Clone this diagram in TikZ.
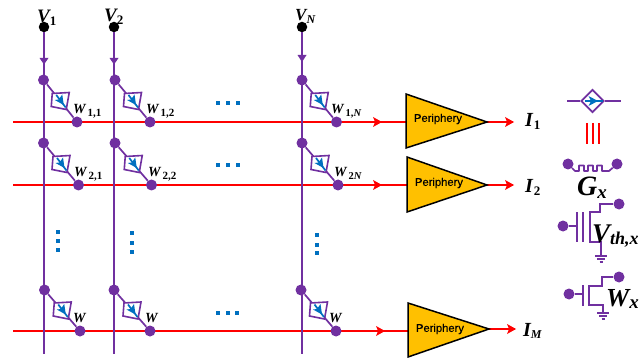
\documentclass[tikz,border=0pt]{standalone}
\usepackage{fontspec}
\setmainfont{Liberation Serif}
\newfontfamily\perfont[FakeBold=0.35]{Liberation Sans}
\usetikzlibrary{shapes.geometric,calc}
\definecolor{pur}{HTML}{7030A0}
\definecolor{blu}{HTML}{0070C0}
\definecolor{gold}{HTML}{FFC000}
\definecolor{redw}{HTML}{FF0000}
\newcommand\lab[5]{{\bfseries\itshape\fontsize{#1}{#1}\selectfont #2\hspace{#5pt}\raisebox{-2.5pt}{\fontsize{#3}{#3}\selectfont #4}}}
\newcommand\wlab[1]{\lab{14}{W}{11}{\upshape #1}{2}}
\tikzset{
  wire/.style={draw=pur,line width=1.7pt},
  wthin/.style={draw=pur,line width=1.5pt},
  rwire/.style={draw=redw,line width=2pt},
  pdot/.style={circle,fill=pur,inner sep=0pt,minimum size=11pt},
  kdot/.style={circle,fill=black,inner sep=0pt,minimum size=10.5pt},
  sdot/.style={circle,fill=pur,inner sep=0pt,minimum size=11pt},
  amp/.style={draw=black,line width=1.5pt,fill=gold,line join=miter},
  plab/.style={font=\perfont\fontsize{11.2}{11.2}\selectfont,text=black,inner sep=0pt},
  tlab/.style={anchor=base west,inner sep=0pt},
  bsq/.style={fill=blu,inner sep=0pt,minimum size=4.4pt},
}
% name, top x, top y, bottom x, bottom y
\newcommand\cellrr[5]{%
  \node[pdot] (#1t) at (#2,#3) {};
  \node[pdot] (#1b) at (#4,#5) {};
  \draw[wire] (#1t) -- (#1b);
  \coordinate (#1c) at ($(#1t)!0.5!(#1b)$);
  \begin{scope}[shift={(#1c)}]
    \filldraw[draw=pur,fill=white,line width=1.6pt,line join=miter] (-8,-7.5) -- (9,-8.5) -- (6,8.5) -- (-9,5.5) -- cycle;
    \draw[blu,line width=1.7pt] (-4,-6) -- (5.5,6.5);
    \fill[blu] (3.5,4) -- (-5.5,-1) -- (-1.5,-1.5) -- (2,-6.5) -- cycle;
  \end{scope}
}
\begin{document}
\begin{tikzpicture}[x=1pt,y=-1pt]
\useasboundingbox (0,0) rectangle (642,358);

% coordinates for the rows and amplifiers
\coordinate (r1s) at (13,122); \coordinate (a1i) at (406,122); \coordinate (a1o) at (487,122); \coordinate (o1) at (513,122);
\coordinate (r2s) at (13,185); \coordinate (a2i) at (407,185); \coordinate (a2o) at (487,185); \coordinate (o2) at (513,185);
\coordinate (r3s) at (13,331); \coordinate (a3i) at (408,331); \coordinate (a3o) at (489,329); \coordinate (o3) at (515,329);

% red word lines
\draw[rwire] (r1s) -- (a1i);
\draw[rwire] (r2s) -- (a2i);
\draw[rwire] (r3s) -- (a3i);
\draw[rwire] (a1o) -- (o1);
\draw[rwire] (a2o) -- (o2);
\draw[rwire] (a3o) -- (o3);
\fill[redw] (382,122) -- (373,117) -- (375,122) -- (373,127) -- cycle;
\fill[redw] (382,185) -- (373,180) -- (375,185) -- (373,190) -- cycle;
\fill[redw] (385,331) -- (376,326) -- (378,331) -- (376,336) -- cycle;
\fill[redw] (o1) ++(1,0) -- ++(-9,-5) -- ++(2,5) -- ++(-2,5) -- cycle;
\fill[redw] (o2) ++(1,0) -- ++(-9,-5) -- ++(2,5) -- ++(-2,5) -- cycle;
\fill[redw] (o3) ++(1,0) -- ++(-9,-5) -- ++(2,5) -- ++(-2,5) -- cycle;

% purple bit lines
\node[kdot] (v1) at (44,27) {};
\node[kdot] (v2) at (114,27) {};
\node[kdot] (vn) at (302,27) {};
\coordinate (e1) at (44,354); \coordinate (e2) at (114,354); \coordinate (en) at (302,354);
\draw[wire] (v1) -- (e1);
\draw[wire] (v2) -- (e2);
\draw[wire] (vn) -- (en);
\fill[pur] (39.5,58) -- (48.5,58) -- (44,64.5) -- cycle;
\fill[pur] (109.5,58) -- (118.5,58) -- (114,64.5) -- cycle;
\fill[pur] (297.5,55) -- (306.5,55) -- (302,62) -- cycle;

% cells
\cellrr{c11}{43.5}{80}{77}{122}
\cellrr{c12}{115}{80}{150}{122}
\cellrr{c1n}{302}{80}{336.5}{122}
\cellrr{c21}{43.5}{143}{78.5}{185}
\cellrr{c22}{115}{143}{151.5}{185}
\cellrr{c2n}{302}{143}{338}{185}
\cellrr{c31}{44.5}{290}{80}{331}
\cellrr{c32}{114}{290}{150}{331}
\cellrr{c3n}{301}{290}{336}{331}

% amplifiers
\draw[amp] (406,94) -- (406,148) -- (a1o) -- cycle;
\draw[amp] (407,157) -- (407,212) -- (a2o) -- cycle;
\draw[amp] (408,303) -- (408,357) -- (a3o) -- cycle;
\node[plab] (p1) at (438,119) {Periphery};
\node[plab] (p2) at (439,183) {Periphery};
\node[plab] (p3) at (440,329) {Periphery};

% labels
\node[tlab] (lv1) at (37,23) {\lab{19}{V}{13}{\upshape 1}{0}};
\node[tlab] (lv2) at (104,22) {\lab{19}{V}{13}{\upshape 2}{0}};
\node[tlab] (lvn) at (295,21) {\lab{17}{V}{12}{N}{0}};
\node[tlab] (l11) at (73,114) {\wlab{1,1}};
\node[tlab] (l12) at (146,114) {\wlab{1,2}};
\node[tlab] (l1n) at (331,114) {\lab{14}{W}{10.5}{\upshape 1,\itshape N}{2}};
\node[tlab] (l21) at (74,177) {\wlab{2,1}};
\node[tlab] (l22) at (148,177) {\wlab{2,2}};
\node[tlab] (l2n) at (334,177) {\lab{14}{W}{10.5}{\upshape 2\itshape N}{2}};
\node[tlab] (l31) at (73,322) {\lab{14}{W}{9}{}{0}};
\node[tlab] (l32) at (145,322) {\lab{14}{W}{9}{}{0}};
\node[tlab] (l3n) at (329,322) {\lab{14}{W}{9}{}{0}};
\node[tlab] (li1) at (525,127) {\lab{20}{I}{13}{\upshape 1}{1}};
\node[tlab] (li2) at (525,193) {\lab{20}{I}{13}{\upshape 2}{1}};
\node[tlab] (lim) at (523,336) {\lab{20}{I}{12}{M}{0}};

% ellipses
\node[bsq] at (218,103) {};\node[bsq] at (228,103) {};\node[bsq] at (238,103) {};
\node[bsq] at (218,165) {};\node[bsq] at (228,165) {};\node[bsq] at (238,165) {};
\node[bsq] at (218,313) {};\node[bsq] at (228,313) {};\node[bsq] at (237,313) {};
\node[bsq] at (58,232) {};\node[bsq] at (58,241) {};\node[bsq] at (58,250) {};
\node[bsq] at (132,233) {};\node[bsq] at (132,243) {};\node[bsq] at (132,252) {};
\node[bsq] at (317,235) {};\node[bsq] at (317,245) {};\node[bsq] at (317,253) {};

% legend: memory cell
\coordinate (gl) at (567,101); \coordinate (gr) at (621,101);
\node[diamond,draw=pur,line width=1.7pt,fill=white,inner sep=0pt,minimum size=23pt] (gd) at (592.5,101) {};
\draw[wire] (gl) -- (gd.west);
\draw[wire] (gd.east) -- (gr);
\draw[blu,line width=1.7pt] (585,101) -- (603,101);
\fill[blu] (598,101) -- (588.5,96) -- (591,101) -- (588.5,106) -- cycle;

% legend: red lines
\coordinate (ra) at (586.5,123); \coordinate (rb) at (586.5,144);
\coordinate (rc) at (593,123); \coordinate (rd) at (593,144);
\coordinate (re) at (599,123); \coordinate (rf) at (599,144);
\draw[rwire] (ra) -- (rb);
\draw[rwire] (rc) -- (rd);
\draw[rwire] (re) -- (rf);

% legend: G
\node[sdot] (g1) at (568,164) {};
\node[sdot] (g2) at (617,164) {};
\draw[wire,line join=round] (g1) -- (575,171) -- (579,171) -- (579,165.5) -- (584,165.5) -- (584,171) -- (588,171) -- (588,165.5) -- (593,165.5) -- (593,171) -- (597,171) -- (597,165.5) -- (602,165.5) -- (602,171) -- (609,171) -- (g2);
\node[tlab] (lg) at (577,196) {\lab{28}{G}{19}{x}{0}};

% legend: Vth
\node[sdot] (tg) at (563,226) {};
\node[sdot] (td) at (619,204) {};
\coordinate (tp) at (577,226);
\coordinate (tb) at (601,256);
\draw[wthin] (tg) -- (tp);
\draw[wthin] (577,212) -- (577,242);
\draw[wthin] (583,212) -- (583,242);
\draw[wthin] (td) -- (600,204) -- (600,212) -- (590,212) -- (590,242) -- (601,242) -- (tb);
\draw[wthin] (595,256) -- (607,256);
\draw[wthin] (597,259) -- (605,259);
\draw[wthin] (599.5,262) -- (602.5,262);
\node[tlab] (lvt) at (592,242) {\lab{27}{V}{18}{th,x}{0}};

% legend: W
\node[sdot] (wg) at (569,294) {};
\node[sdot] (wd) at (619,277) {};
\coordinate (wp) at (583,294);
\coordinate (wb) at (603,313);
\draw[wthin] (wg) -- (wp);
\draw[wthin] (583,285) -- (583,306);
\draw[wthin] (wd) -- (602,277) -- (602,286) -- (589,286) -- (589,305) -- (603,305) -- (wb);
\draw[wthin] (597,313) -- (609,313);
\draw[wthin] (599,316) -- (607,316);
\draw[wthin] (601.5,319) -- (604.5,319);
\node[tlab] (lwx) at (606,306) {\lab{26}{W}{19}{x}{0}};
\end{tikzpicture}
\end{document}
